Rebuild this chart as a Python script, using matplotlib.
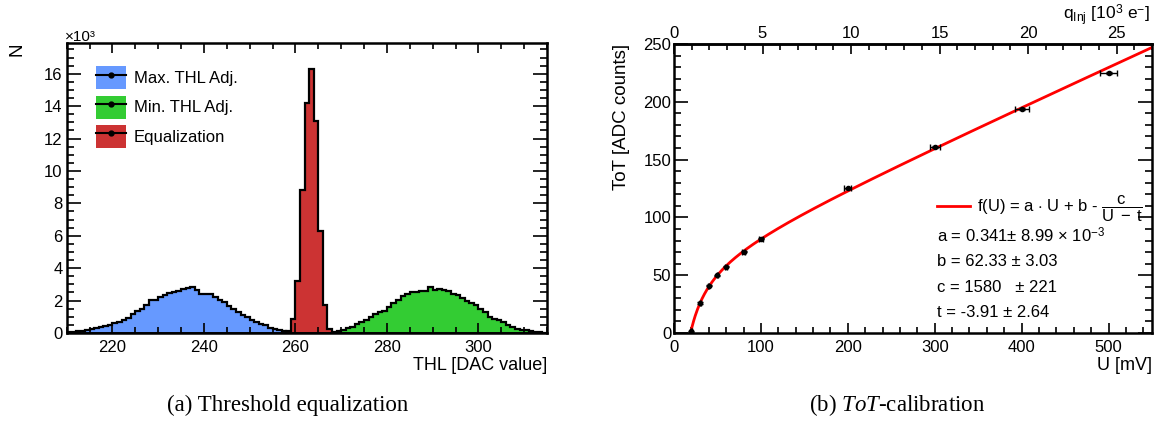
import numpy as np
import matplotlib
matplotlib.use("Agg")
import matplotlib.pyplot as plt
from matplotlib.patches import Patch
from matplotlib.lines import Line2D
from matplotlib.ticker import MultipleLocator

plt.rcParams['font.family'] = ['Liberation Sans', 'DejaVu Sans']
plt.rcParams['mathtext.fontset'] = 'custom'
plt.rcParams['mathtext.rm'] = 'Liberation Sans'
plt.rcParams['mathtext.it'] = 'Liberation Serif:italic'
plt.rcParams['mathtext.bf'] = 'Liberation Sans:bold'

# ---------------- data: threshold equalization (counts in 10^3) ----------------
blue_start = 210
blue_vals = [0.06, 0.08, 0.10, 0.12, 0.16, 0.23, 0.29, 0.35, 0.41, 0.52,
             0.60, 0.68, 0.78, 0.93, 1.18, 1.34, 1.50, 1.71, 2.04, 2.06,
             2.20, 2.35, 2.45, 2.50, 2.62, 2.74, 2.80, 2.85, 2.64, 2.42,
             2.42, 2.39, 2.23, 2.02, 1.92, 1.67, 1.50, 1.30, 1.13, 1.00,
             0.78, 0.68, 0.58, 0.47, 0.31, 0.23, 0.16, 0.10, 0.08, 0.05]
green_start = 268
green_vals = [0.06, 0.14, 0.20, 0.30, 0.40, 0.55, 0.68, 0.82, 1.00, 1.20,
              1.32, 1.34, 1.60, 1.85, 2.06, 2.27, 2.41, 2.50, 2.50, 2.58,
              2.58, 2.85, 2.68, 2.74, 2.64, 2.58, 2.43, 2.37, 2.16, 1.96,
              1.88, 1.75, 1.50, 1.30, 1.00, 0.89, 0.78, 0.68, 0.47, 0.37,
              0.27, 0.20, 0.16, 0.10, 0.06, 0.04, 0.03]
red_start = 258
red_vals = [0.10, 0.89, 3.20, 8.80, 14.20, 16.27, 13.10, 6.30, 1.70, 0.25]
hist_labels = ["Max. THL Adj.", "Min. THL Adj.", "Equalization"]
hist_colors = ["#6699ff", "#33cc33", "#cc3333"]

# ---------------- data: ToT calibration ----------------
U_mV = [20, 30, 40, 50, 60, 80, 100, 200, 300, 400, 500]
ToT = [1.5, 26, 41, 50, 57.5, 70.5, 81.5, 125, 161, 194, 225]
U_err = [0.4, 0.6, 0.8, 1.0, 1.2, 1.6, 2.0, 4.0, 6.0, 8.0, 10.0]
ToT_err = [0.5, 0.5, 0.5, 0.5, 0.5, 0.5, 0.6, 0.8, 1.0, 1.0, 1.0]
fit_a, fit_b, fit_c, fit_t = 0.341, 62.33, 1580.0, -3.91
q_per_mV = 0.0491  # 10^3 e- per mV

fig = plt.figure(figsize=(11.6, 4.23), dpi=100)
W, H = 1160.0, 423.0

def fx(px):
    return px / W

def fy(py):
    return 1 - py / H

TL = 12  # tick label size

# ============ left panel ============
axL = fig.add_axes([fx(66.7), fy(333), (547 - 66.7) / W, (333 - 43) / H])
for start, vals, col in [(blue_start, blue_vals, hist_colors[0]),
                         (green_start, green_vals, hist_colors[1]),
                         (red_start, red_vals, hist_colors[2])]:
    edges = np.arange(start, start + len(vals) + 1)
    axL.stairs(vals, edges, fill=True, facecolor=col, edgecolor='none')
    axL.stairs(vals, edges, fill=False, color='black', linewidth=1.6)
axL.axhline(0, color='black', lw=2)
axL.set_xlim(210, 315)
axL.set_ylim(0, 17.9)
axL.xaxis.set_major_locator(MultipleLocator(20))
axL.xaxis.set_minor_locator(MultipleLocator(5))
axL.yaxis.set_major_locator(MultipleLocator(2))
axL.yaxis.set_minor_locator(MultipleLocator(0.5))
axL.tick_params(which='both', direction='in', top=True, right=True, labelsize=TL, width=1.2)
axL.tick_params(axis='y', which='major', length=10, pad=3)
axL.tick_params(axis='y', which='minor', length=5)
axL.tick_params(axis='x', which='major', length=7, pad=5)
axL.tick_params(axis='x', which='minor', length=4)
for s in axL.spines.values():
    s.set_linewidth(1.8)

handles = [(Patch(facecolor=c, edgecolor='none'),
            Line2D([], [], color='black', lw=1.5, marker='o', markersize=3.5))
           for c in hist_colors]
axL.legend(handles, hist_labels, loc='upper left', bbox_to_anchor=(0.062, 0.92),
           frameon=False, fontsize=12, handlelength=1.8, handleheight=1.75,
           labelspacing=0.38, handletextpad=0.45, borderaxespad=0, borderpad=0)

fig.text(fx(547), fy(365), "THL [DAC value]", ha='right', va='center', fontsize=13)
fig.text(fx(17), fy(43), "N", rotation=90, ha='center', va='top', fontsize=13.5)
fig.text(fx(65), fy(44), "×10³", ha='left', va='bottom', fontsize=11)

# ============ right panel ============
axR = fig.add_axes([fx(674), fy(333), (1152 - 674) / W, (333 - 44) / H])
Uc = np.linspace(19.1, 550, 600)
axR.plot(Uc, fit_a * Uc + fit_b - fit_c / (Uc - fit_t), color='red', lw=2, zorder=2)
axR.errorbar(U_mV, ToT, xerr=U_err, yerr=ToT_err, fmt='o', color='black',
             markersize=3, elinewidth=1, capsize=2, capthick=1, zorder=3)
axR.set_xlim(0, 550)
axR.set_ylim(0, 250)
axR.xaxis.set_major_locator(MultipleLocator(100))
axR.xaxis.set_minor_locator(MultipleLocator(20))
axR.yaxis.set_major_locator(MultipleLocator(50))
axR.yaxis.set_minor_locator(MultipleLocator(10))
axR.tick_params(which='both', direction='in', top=False, right=True, labelsize=TL, width=1.2)
axR.tick_params(axis='y', which='major', length=10, pad=2)
axR.tick_params(axis='y', which='minor', length=5)
axR.tick_params(axis='x', which='major', length=7, pad=5)
axR.tick_params(axis='x', which='minor', length=4)
for s in axR.spines.values():
    s.set_linewidth(1.8)

sec = axR.secondary_xaxis('top', functions=(lambda u: u * q_per_mV, lambda q: q / q_per_mV))
sec.xaxis.set_major_locator(MultipleLocator(5))
sec.xaxis.set_minor_locator(MultipleLocator(1))
sec.tick_params(which='both', direction='in', labelsize=TL, width=1.2, pad=2)
sec.tick_params(which='major', length=7)
sec.tick_params(which='minor', length=4)
sec.spines['top'].set_linewidth(1.8)

fit_label = r'f(U) = a $\cdot$ U + b - $\dfrac{\mathrm{c}}{\mathrm{U\ -\ t}}$'
axR.legend([Line2D([], [], color='red', lw=2)], [fit_label], loc='center left',
           bbox_to_anchor=(0.55, 0.43), frameon=False, fontsize=12,
           handlelength=2.0, handletextpad=0.4, borderaxespad=0, borderpad=0)
param_lines = ['a = 0.341± 8.99 × 10$^{\\mathrm{-3}}$',
               'b = 62.33 ± 3.03',
               'c = 1580   ± 221',
               't = -3.91 ± 2.64']
param_y = [236, 261, 287, 312.7]
for txt, py in zip(param_lines, param_y):
    fig.text(fx(937), fy(py), txt, ha='left', va='center', fontsize=12)

fig.text(fx(1152), fy(365), "U [mV]", ha='right', va='center', fontsize=13)
fig.text(fx(622), fy(44), "ToT [ADC counts]", rotation=90, ha='center', va='top', fontsize=13.5)
fig.text(fx(1150), fy(15), r'q$_{\mathrm{Inj}}$ [10$^{3}$ e$^{-}$]', ha='right', va='center',
         fontsize=12.5)

# captions
fig.text(fx(288), fy(405), "(a) Threshold equalization", ha='center', va='center',
         fontsize=16.5, family='Liberation Serif')
fig.text(fx(897), fy(405), r'(b) $ToT$-calibration', ha='center', va='center',
         fontsize=16.5, family='Liberation Serif')

fig.savefig("out.png", dpi=100)
